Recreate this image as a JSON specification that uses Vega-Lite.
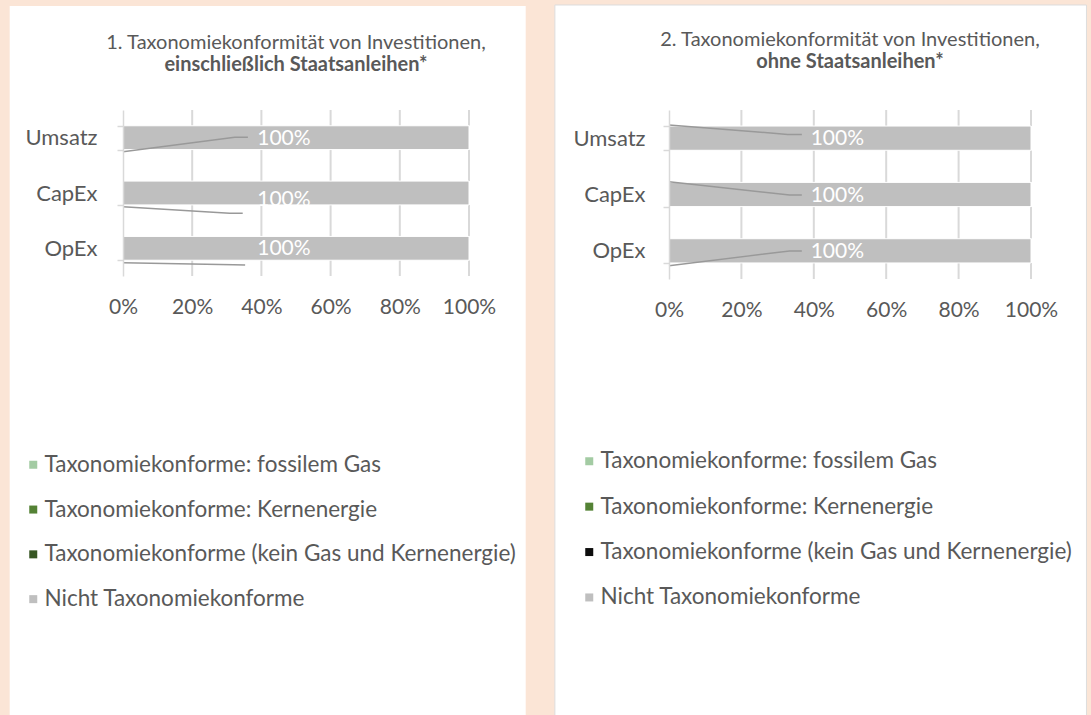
{
 "$schema": "https://vega.github.io/schema/vega-lite/v6.json",
 "background": "#FBE5D6",
 "padding": {"left": 9, "top": 4, "right": 6, "bottom": 0},
 "spacing": 28,
 "config": {"font": "Lato", "view": {"stroke": null}},
 "datasets": {
  "p1": [
   {"cat": "Umsatz", "typ": "Taxonomiekonforme: fossilem Gas", "v": 0},
   {"cat": "Umsatz", "typ": "Taxonomiekonforme: Kernenergie", "v": 0},
   {"cat": "Umsatz", "typ": "Taxonomiekonforme (kein Gas und Kernenergie)", "v": 0},
   {"cat": "Umsatz", "typ": "Nicht Taxonomiekonforme", "v": 1},
   {"cat": "CapEx", "typ": "Taxonomiekonforme: fossilem Gas", "v": 0},
   {"cat": "CapEx", "typ": "Taxonomiekonforme: Kernenergie", "v": 0},
   {"cat": "CapEx", "typ": "Taxonomiekonforme (kein Gas und Kernenergie)", "v": 0},
   {"cat": "CapEx", "typ": "Nicht Taxonomiekonforme", "v": 1},
   {"cat": "OpEx", "typ": "Taxonomiekonforme: fossilem Gas", "v": 0},
   {"cat": "OpEx", "typ": "Taxonomiekonforme: Kernenergie", "v": 0},
   {"cat": "OpEx", "typ": "Taxonomiekonforme (kein Gas und Kernenergie)", "v": 0},
   {"cat": "OpEx", "typ": "Nicht Taxonomiekonforme", "v": 1}
  ],
  "p2": [
   {"cat": "Umsatz", "typ": "Taxonomiekonforme: fossilem Gas", "v": 0},
   {"cat": "Umsatz", "typ": "Taxonomiekonforme: Kernenergie", "v": 0},
   {"cat": "Umsatz", "typ": "Taxonomiekonforme (kein Gas und Kernenergie)", "v": 0},
   {"cat": "Umsatz", "typ": "Nicht Taxonomiekonforme", "v": 1},
   {"cat": "CapEx", "typ": "Taxonomiekonforme: fossilem Gas", "v": 0},
   {"cat": "CapEx", "typ": "Taxonomiekonforme: Kernenergie", "v": 0},
   {"cat": "CapEx", "typ": "Taxonomiekonforme (kein Gas und Kernenergie)", "v": 0},
   {"cat": "CapEx", "typ": "Nicht Taxonomiekonforme", "v": 1},
   {"cat": "OpEx", "typ": "Taxonomiekonforme: fossilem Gas", "v": 0},
   {"cat": "OpEx", "typ": "Taxonomiekonforme: Kernenergie", "v": 0},
   {"cat": "OpEx", "typ": "Taxonomiekonforme (kein Gas und Kernenergie)", "v": 0},
   {"cat": "OpEx", "typ": "Nicht Taxonomiekonforme", "v": 1}
  ],
  "l1": [
   {"cat": "Umsatz", "i": 0, "x": 0, "y": 0.753},
   {"cat": "Umsatz", "i": 1, "x": 0.323, "y": 0.494},
   {"cat": "Umsatz", "i": 2, "x": 0.361, "y": 0.494},
   {"cat": "CapEx", "i": 0, "x": 0, "y": 1.747},
   {"cat": "CapEx", "i": 1, "x": 0.308, "y": 1.867},
   {"cat": "CapEx", "i": 2, "x": 0.346, "y": 1.867},
   {"cat": "OpEx", "i": 0, "x": 0, "y": 2.759},
   {"cat": "OpEx", "i": 1, "x": 0.32, "y": 2.795},
   {"cat": "OpEx", "i": 2, "x": 0.353, "y": 2.801}
  ],
  "l2": [
   {"cat": "Umsatz", "i": 0, "x": 0, "y": 0.266},
   {"cat": "Umsatz", "i": 1, "x": 0.328, "y": 0.433},
   {"cat": "Umsatz", "i": 2, "x": 0.367, "y": 0.433},
   {"cat": "CapEx", "i": 0, "x": 0, "y": 1.273},
   {"cat": "CapEx", "i": 1, "x": 0.333, "y": 1.509},
   {"cat": "CapEx", "i": 2, "x": 0.367, "y": 1.509},
   {"cat": "OpEx", "i": 0, "x": 0, "y": 2.764},
   {"cat": "OpEx", "i": 1, "x": 0.333, "y": 2.503},
   {"cat": "OpEx", "i": 2, "x": 0.367, "y": 2.503}
  ]
 },
 "resolve": {"scale": {"color": "independent"}},
 "hconcat": [
  {
   "width": 346, "height": 166,
   "title": {"text": "1. Taxonomiekonformität von Investitionen,", "subtitle": "einschließlich Staatsanleihen*", "fontSize": 20, "fontWeight": "normal", "color": "#595959", "subtitleFontSize": 20, "subtitleFontWeight": "bold", "subtitleColor": "#595959", "subtitlePadding": 2, "anchor": "middle", "offset": -69},
   "resolve": {"scale": {"y": "independent"}, "axis": {"x": "independent"}},
   "layer": [
    {"data": {"values": [{}]}, "mark": {"type": "rect", "fill": "white"},
     "encoding": {
      "x": {"datum": -0.3275, "type": "quantitative", "scale": {"domain": [0, 1], "nice": false, "zero": false}, "axis": null},
      "x2": {"datum": 1.1639},
      "y": {"datum": -1.88, "type": "quantitative", "scale": {"domain": [0, 3], "reverse": true, "nice": false, "zero": false}, "axis": null},
      "y2": {"datum": 10.952}}},
    {"data": {"values": [{}]}, "mark": {"type": "rule", "color": "#D9D9D9", "strokeWidth": 2}, "encoding": {"x": {"datum": 0.2, "type": "quantitative", "axis": null}}},
    {"data": {"values": [{}]}, "mark": {"type": "rule", "color": "#D9D9D9", "strokeWidth": 2}, "encoding": {"x": {"datum": 0.4, "type": "quantitative", "axis": null}}},
    {"data": {"values": [{}]}, "mark": {"type": "rule", "color": "#D9D9D9", "strokeWidth": 2}, "encoding": {"x": {"datum": 0.6, "type": "quantitative", "axis": null}}},
    {"data": {"values": [{}]}, "mark": {"type": "rule", "color": "#D9D9D9", "strokeWidth": 2}, "encoding": {"x": {"datum": 0.8, "type": "quantitative", "axis": null}}},
    {"data": {"values": [{}]}, "mark": {"type": "rule", "color": "#D9D9D9", "strokeWidth": 2}, "encoding": {"x": {"datum": 1, "type": "quantitative", "axis": null}}},
    {"data": {"name": "p1"}, "mark": {"type": "bar", "stroke": "white", "strokeWidth": 1},
     "encoding": {
      "y": {"field": "cat", "type": "nominal", "sort": ["Umsatz", "CapEx", "OpEx"], "scale": {"domain": ["Umsatz", "CapEx", "OpEx"], "paddingInner": 0.57, "paddingOuter": 0.285},
            "axis": {"title": null, "labelFontSize": 22, "labelColor": "#595959", "labelPadding": 20, "domainColor": "#D9D9D9", "domainWidth": 1.5, "tickColor": "#D9D9D9", "tickWidth": 1.5, "tickSize": 6, "tickBand": "extent", "zindex": 1}},
      "x": {"field": "v", "type": "quantitative", "stack": "zero", "scale": {"domain": [0, 1], "nice": false, "zero": false},
            "axis": {"title": null, "values": [0, 0.2, 0.4, 0.6, 0.8, 1], "format": ".0%", "grid": false, "domain": false, "ticks": false, "labelPadding": 20, "labelFontSize": 21, "labelColor": "#595959", "labelOverlap": false, "labelFlush": false, "zindex": 1}},
      "color": {"field": "typ", "type": "nominal",
                "scale": {"domain": ["Taxonomiekonforme: fossilem Gas", "Taxonomiekonforme: Kernenergie", "Taxonomiekonforme (kein Gas und Kernenergie)", "Nicht Taxonomiekonforme"], "range": ["#A3CBA3", "#548235", "#375623", "#BFBFBF"]},
                "legend": {"orient": "none", "legendX": -101, "legendY": 343.5, "direction": "vertical", "title": null, "symbolType": "square", "symbolSize": 64, "symbolStrokeWidth": 0, "labelFontSize": 22.5, "labelColor": "#595959", "labelOffset": 0, "rowPadding": 21.8, "labelLimit": 600}}}},
    {"data": {"name": "l1"}, "mark": {"type": "line", "color": "#999999", "strokeWidth": 1.5},
     "encoding": {
      "x": {"field": "x", "type": "quantitative", "axis": null},
      "y": {"field": "y", "type": "quantitative", "scale": {"domain": [0, 3], "reverse": true, "nice": false, "zero": false}, "axis": null},
      "detail": {"field": "cat"}, "order": {"field": "i"}}},
    {"data": {"name": "p1"}, "transform": [{"filter": "datum.typ === 'Nicht Taxonomiekonforme' && datum.cat !== 'CapEx'"}],
     "mark": {"type": "text", "color": "white", "fontSize": 21, "dy": 1},
     "encoding": {
      "y": {"field": "cat", "type": "nominal", "scale": {"domain": ["Umsatz", "CapEx", "OpEx"], "paddingInner": 0.57, "paddingOuter": 0.285}, "axis": null},
      "x": {"datum": 0.465, "type": "quantitative", "axis": null},
      "text": {"field": "v", "type": "quantitative", "format": ".0%"}}},
    {"data": {"name": "p1"}, "transform": [{"filter": "datum.typ === 'Nicht Taxonomiekonforme' && datum.cat === 'CapEx'"}],
     "mark": {"type": "text", "color": "white", "fontSize": 21, "dy": 7},
     "encoding": {
      "y": {"field": "cat", "type": "nominal", "scale": {"domain": ["Umsatz", "CapEx", "OpEx"], "paddingInner": 0.57, "paddingOuter": 0.285}, "axis": null},
      "x": {"datum": 0.465, "type": "quantitative", "axis": null},
      "text": {"field": "v", "type": "quantitative", "format": ".0%"}}}
   ]
  },
  {
   "width": 362, "height": 169,
   "title": {"text": "2. Taxonomiekonformität von Investitionen,", "subtitle": "ohne Staatsanleihen*", "fontSize": 20, "fontWeight": "normal", "color": "#595959", "subtitleFontSize": 20, "subtitleFontWeight": "bold", "subtitleColor": "#595959", "subtitlePadding": 2, "anchor": "middle", "offset": -68},
   "resolve": {"scale": {"y": "independent"}, "axis": {"x": "independent"}},
   "layer": [
    {"data": {"values": [{}]}, "mark": {"type": "rect", "fill": "white", "stroke": "#DDDDDD", "strokeWidth": 1},
     "encoding": {
      "x": {"datum": -0.3152, "type": "quantitative", "scale": {"domain": [0, 1], "nice": false, "zero": false}, "axis": null},
      "x2": {"datum": 1.1532},
      "y": {"datum": -1.864, "type": "quantitative", "scale": {"domain": [0, 3], "reverse": true, "nice": false, "zero": false}, "axis": null},
      "y2": {"datum": 10.758}}},
    {"data": {"values": [{}]}, "mark": {"type": "rule", "color": "#D9D9D9", "strokeWidth": 2}, "encoding": {"x": {"datum": 0.2, "type": "quantitative", "axis": null}}},
    {"data": {"values": [{}]}, "mark": {"type": "rule", "color": "#D9D9D9", "strokeWidth": 2}, "encoding": {"x": {"datum": 0.4, "type": "quantitative", "axis": null}}},
    {"data": {"values": [{}]}, "mark": {"type": "rule", "color": "#D9D9D9", "strokeWidth": 2}, "encoding": {"x": {"datum": 0.6, "type": "quantitative", "axis": null}}},
    {"data": {"values": [{}]}, "mark": {"type": "rule", "color": "#D9D9D9", "strokeWidth": 2}, "encoding": {"x": {"datum": 0.8, "type": "quantitative", "axis": null}}},
    {"data": {"values": [{}]}, "mark": {"type": "rule", "color": "#D9D9D9", "strokeWidth": 2}, "encoding": {"x": {"datum": 1, "type": "quantitative", "axis": null}}},
    {"data": {"name": "p2"}, "mark": {"type": "bar", "stroke": "white", "strokeWidth": 1},
     "encoding": {
      "y": {"field": "cat", "type": "nominal", "sort": ["Umsatz", "CapEx", "OpEx"], "scale": {"domain": ["Umsatz", "CapEx", "OpEx"], "paddingInner": 0.57, "paddingOuter": 0.285},
            "axis": {"title": null, "labelFontSize": 22, "labelColor": "#595959", "labelPadding": 18, "domainColor": "#D9D9D9", "domainWidth": 1.5, "tickColor": "#D9D9D9", "tickWidth": 1.5, "tickSize": 6, "tickBand": "extent", "zindex": 1}},
      "x": {"field": "v", "type": "quantitative", "stack": "zero", "scale": {"domain": [0, 1], "nice": false, "zero": false},
            "axis": {"title": null, "values": [0, 0.2, 0.4, 0.6, 0.8, 1], "format": ".0%", "grid": false, "domain": false, "ticks": false, "labelPadding": 20, "labelFontSize": 21, "labelColor": "#595959", "labelOverlap": false, "labelFlush": false, "zindex": 1}},
      "color": {"field": "typ", "type": "nominal",
                "scale": {"domain": ["Taxonomiekonforme: fossilem Gas", "Taxonomiekonforme: Kernenergie", "Taxonomiekonforme (kein Gas und Kernenergie)", "Nicht Taxonomiekonforme"], "range": ["#A3CBA3", "#548235", "#0D0D0D", "#BFBFBF"]},
                "legend": {"orient": "none", "legendX": -91, "legendY": 340, "direction": "vertical", "title": null, "symbolType": "square", "symbolSize": 64, "symbolStrokeWidth": 0, "labelFontSize": 22.5, "labelColor": "#595959", "labelOffset": 0, "rowPadding": 22.4, "labelLimit": 600}}}},
    {"data": {"name": "l2"}, "mark": {"type": "line", "color": "#999999", "strokeWidth": 1.5},
     "encoding": {
      "x": {"field": "x", "type": "quantitative", "axis": null},
      "y": {"field": "y", "type": "quantitative", "scale": {"domain": [0, 3], "reverse": true, "nice": false, "zero": false}, "axis": null},
      "detail": {"field": "cat"}, "order": {"field": "i"}}},
    {"data": {"name": "p2"}, "transform": [{"filter": "datum.typ === 'Nicht Taxonomiekonforme'"}],
     "mark": {"type": "text", "color": "white", "fontSize": 21, "dy": 1},
     "encoding": {
      "y": {"field": "cat", "type": "nominal", "scale": {"domain": ["Umsatz", "CapEx", "OpEx"], "paddingInner": 0.57, "paddingOuter": 0.285}, "axis": null},
      "x": {"datum": 0.465, "type": "quantitative", "axis": null},
      "text": {"field": "v", "type": "quantitative", "format": ".0%"}}}
   ]
  }
 ]
}
